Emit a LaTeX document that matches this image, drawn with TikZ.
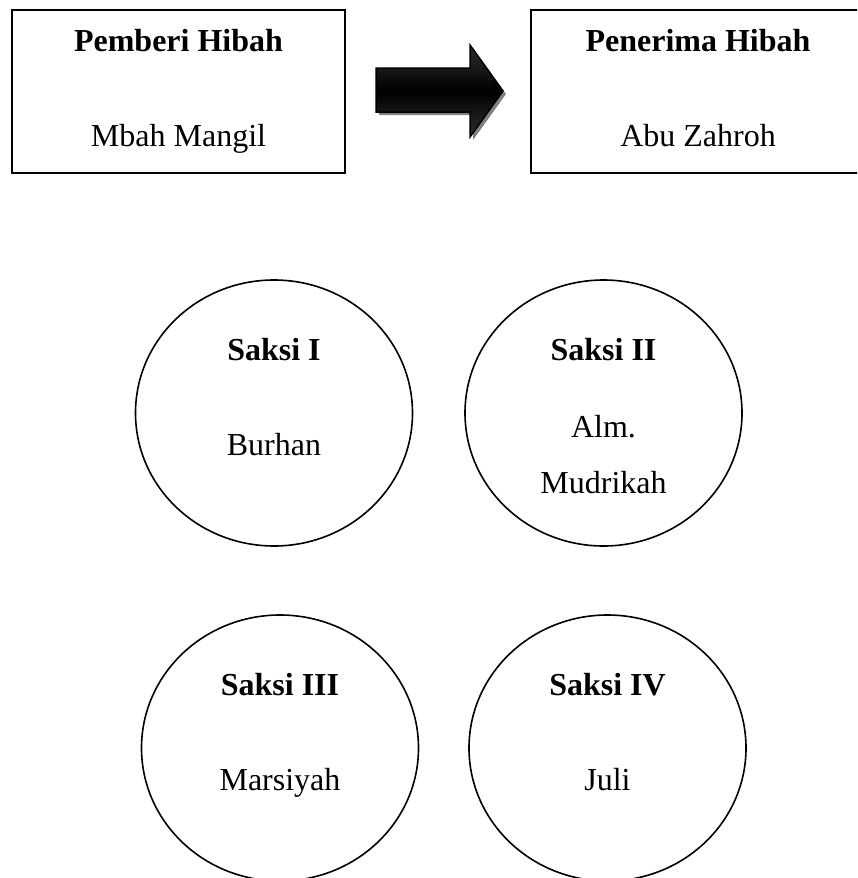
\documentclass[tikz,border=0pt]{standalone}
\usepackage{fontspec}
\setmainfont{Liberation Serif}
\usetikzlibrary{shapes.geometric}
\pgfdeclareverticalshading{panahgelap}{100bp}{color(0bp)=(black!62); color(30bp)=(black!85); color(50bp)=(black); color(70bp)=(black!85); color(100bp)=(black!62)}
\begin{document}
\begin{tikzpicture}[x=1pt,y=-1pt]

\tikzstyle{kotak}=[draw,line width=2,rectangle,minimum width=333,minimum height=163,inner sep=0]
\tikzstyle{saksi}=[draw,line width=1.6,ellipse,minimum width=277,minimum height=266,inner sep=0]
\tikzstyle{judul}=[anchor=base,inner sep=0,font=\fontsize{32}{56}\selectfont\bfseries]
\tikzstyle{nama}=[anchor=base,inner sep=0,align=center,font=\fontsize{32}{56}\selectfont]

\newcommand{\panah}[1]{
    \path[#1] (376,68) -- (470,68) -- (470,45) -- (503,91) -- (470,137) -- (470,112) -- (376,112) -- cycle;
}

\useasboundingbox (0,0) rectangle (857,878);
\clip (0,0) rectangle (857,878);

% kotak pemberi dan penerima
\node[kotak] (pemberi) at (178.5,91.5) {};
\node[kotak,minimum width=334] (penerima) at (698,91.5) {};

\node[judul] (judulpemberi) at (178.5,51) {Pemberi Hibah};
\node[nama] (namapemberi) at (178.5,146) {Mbah Mangil};
\node[judul] (judulpenerima) at (698,51) {Penerima Hibah};
\node[nama] (namapenerima) at (698,146) {Abu Zahroh};

% panah hibah
\panah{fill=black!50,shift={(3,3)}}
\panah{shading=panahgelap,shading angle=0}
\panah{draw,line width=1.5}

% para saksi
\foreach \n/\cx/\cy/\judul/\nama/\dy in {1/274/413/Saksi I/Burhan/42,
                                       2/603.5/413/Saksi II/{Alm.\\Mudrikah}/80,
                                       3/280/748/Saksi III/Marsiyah/42,
                                       4/607.5/748/Saksi IV/Juli/42}
{
    \node[saksi] (saksi\n) at (\cx,\cy) {};
    \node[judul] (judul\n) at (\cx,\cy-53) {\judul};
    \node[nama] (nama\n) at (\cx,\cy+\dy) {\nama};
}

\end{tikzpicture}
\end{document}
